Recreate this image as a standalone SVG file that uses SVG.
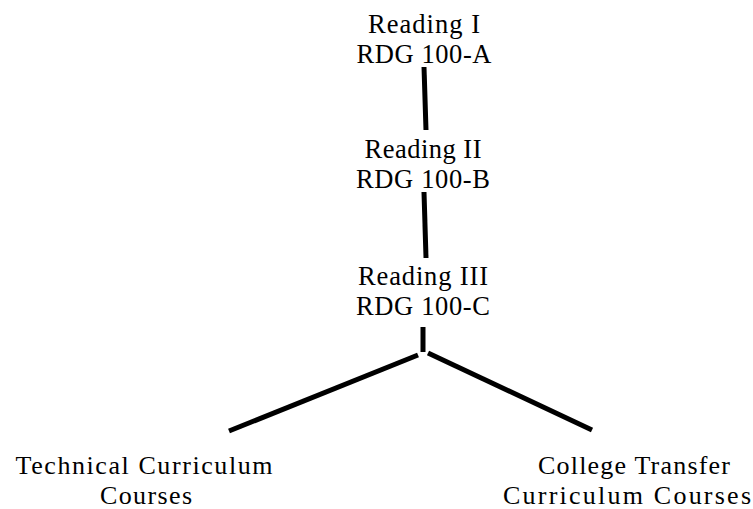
<svg xmlns="http://www.w3.org/2000/svg" width="753" height="509" viewBox="0 0 753 509">
<style>
text{font-family:'Liberation Serif','DejaVu Serif',serif;font-size:26.5px;fill:#000;text-anchor:middle}
.b{font-size:26px}
.c{stroke:#000;stroke-width:5;fill:none;stroke-linecap:butt}
</style>
<rect width="753" height="509" fill="#fff"/>
<g id="reading1"><text x="424" y="33" textLength="112">Reading I</text><text x="424" y="63" textLength="135">RDG 100-A</text></g>
<g id="reading2"><text x="423" y="158" textLength="117">Reading II</text><text x="423" y="188" textLength="134">RDG 100-B</text></g>
<g id="reading3"><text x="423" y="285" textLength="130">Reading III</text><text x="423" y="315" textLength="134">RDG 100-C</text></g>
<g id="technical"><text class="b" x="144" y="474" textLength="257">Technical Curriculum</text><text class="b" x="146" y="504" textLength="92">Courses</text></g>
<g id="transfer"><text class="b" x="634" y="474" textLength="192">College Transfer</text><text class="b" x="627" y="504" textLength="248">Curriculum Courses</text></g>
<g id="connectors">
<line class="c" x1="424" y1="67" x2="426" y2="130"/>
<line class="c" x1="424" y1="192" x2="426" y2="258"/>
<line class="c" x1="423" y1="327" x2="423" y2="352"/>
<line class="c" x1="418" y1="355" x2="229" y2="431"/>
<line class="c" x1="428" y1="353" x2="592" y2="430"/>
</g>
</svg>
